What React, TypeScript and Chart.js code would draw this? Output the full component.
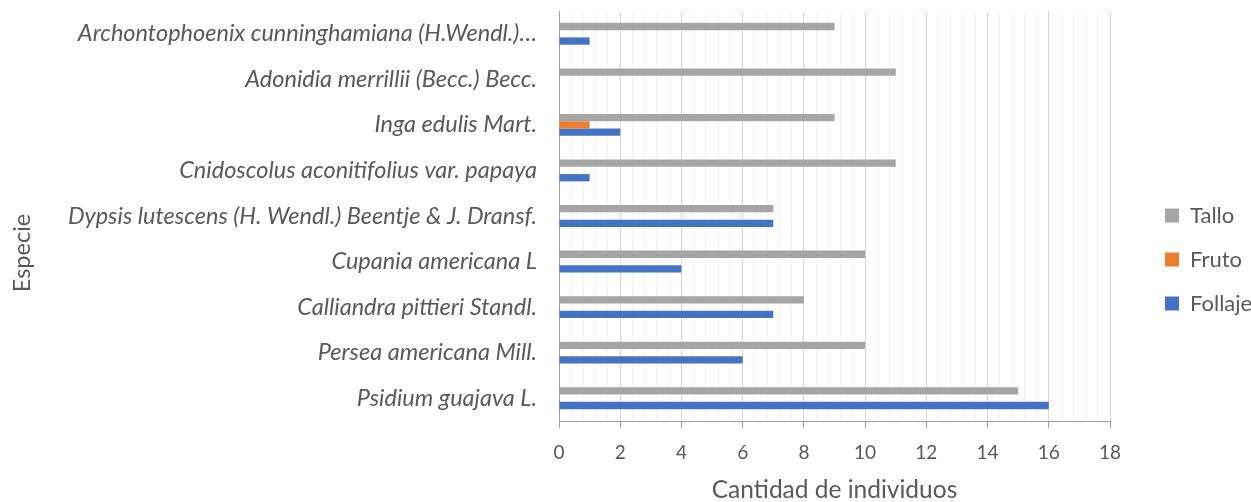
import React, { useEffect, useRef } from "react";
import { Chart, registerables } from "chart.js";

Chart.register(...registerables);

const categories = [
  "Archontophoenix cunninghamiana (H.Wendl.)…",
  "Adonidia merrillii (Becc.) Becc.",
  "Inga edulis Mart.",
  "Cnidoscolus aconitifolius var. papaya",
  "Dypsis lutescens (H. Wendl.) Beentje & J. Dransf.",
  "Cupania americana L",
  "Calliandra pittieri Standl.",
  "Persea americana Mill.",
  "Psidium guajava L.",
];
const tallo = [9, 11, 9, 11, 7, 10, 8, 10, 15];
const fruto = [0, 0, 1, 0, 0, 0, 0, 0, 0];
const follaje = [1, 0, 2, 1, 7, 4, 7, 6, 16];

const xMin = 0;
const xMax = 18;
const minorStep = 0.4;
const majorStep = 2;

const yTitleText = "Especie";
const xTitleText = "Cantidad de individuos";

const FONT = "Lato, 'Open Sans', sans-serif";
const TEXT = "#595959";

const isMajor = (v: number) => Math.abs(v / majorStep - Math.round(v / majorStep)) < 1e-6;

export default function App() {
  const ref = useRef<HTMLCanvasElement | null>(null);

  useEffect(() => {
    document.body.style.margin = "0";
    if (!ref.current) return;
    const legendTweak = {
      id: "legendTweak",
      beforeLayout(chart: any) {
        const lg = chart.legend;
        if (!lg || lg._tweaked) return;
        const orig = lg.fit;
        lg.fit = function () {
          orig.call(this);
          this.width = 141;
        };
        lg._tweaked = true;
      },
      afterLayout(chart: any) {
        const lg = chart.legend;
        if (!lg) return;
        lg.left += 33;
        lg.right += 33;
        lg.top += 3;
        lg.bottom += 3;
      },
    };
    const yTitle = {
      id: "yTitle",
      afterDraw(chart: any) {
        const ctx = chart.ctx;
        ctx.save();
        ctx.translate(22, 253);
        ctx.rotate(-Math.PI / 2);
        ctx.textAlign = "center";
        ctx.textBaseline = "middle";
        ctx.fillStyle = TEXT;
        ctx.font = `normal 23.5px ${FONT}`;
        ctx.fillText(yTitleText, 0, 0);
        ctx.restore();
      },
    };
    const chart = new Chart(ref.current, {
      type: "bar",
      data: {
        labels: categories,
        datasets: [
          { label: "Tallo", data: tallo, backgroundColor: "#a5a5a5" },
          { label: "Fruto", data: fruto, backgroundColor: "#ed7d31" },
          { label: "Follaje", data: follaje, backgroundColor: "#4472c4" },
        ],
      },
      plugins: [legendTweak, yTitle],
      options: {
        indexAxis: "y",
        animation: false,
        responsive: false,
        maintainAspectRatio: false,
        layout: { padding: { top: 11, left: 0, right: 0, bottom: 0 } },
        datasets: {
          bar: { barPercentage: 1, categoryPercentage: 0.48, borderWidth: 0 },
        },
        plugins: {
          tooltip: { enabled: false },
          legend: {
            position: "right",
            align: "center",
            labels: {
              color: TEXT,
              font: { family: FONT, size: 22 },
              boxWidth: 14,
              boxHeight: 14,
              padding: 22,
            },
          },
        },
        scales: {
          x: {
            type: "linear",
            min: xMin,
            max: xMax,
            afterFit: (s: any) => {
              s.height = 81;
            },
            ticks: {
              stepSize: minorStep,
              autoSkip: false,
              maxRotation: 0,
              color: TEXT,
              font: { family: FONT, size: 19 },
              padding: 13,
              callback: (v: any) => (isMajor(Number(v)) ? String(Math.round(Number(v))) : ""),
            },
            grid: {
              color: (ctx: any) => (isMajor(ctx.tick?.value ?? 0) ? "#d9d9d9" : "#f2f2f2"),
              tickColor: (ctx: any) => (isMajor(ctx.tick?.value ?? 0) ? "#a0a0a0" : "rgba(0,0,0,0)"),
              tickLength: 7,
              lineWidth: 1,
            },
            border: { display: true, color: "#a0a0a0", width: 1 },
            title: {
              display: true,
              text: xTitleText,
              color: TEXT,
              font: { family: FONT, size: 24.5, lineHeight: 1 },
              padding: { top: 0, bottom: 0 },
            },
          },
          y: {
            type: "category",
            afterFit: (s: any) => {
              s.width = 559;
              s.paddingTop = 0;
              s.paddingBottom = 0;
            },
            ticks: {
              color: TEXT,
              font: { family: FONT, size: 23.5, style: "italic" },
              padding: 0,
              autoSkip: false,
            },
            grid: { display: false, drawTicks: true, tickLength: 22 },
            border: { display: true, color: "#a0a0a0", width: 1 },
            title: { display: false },
          },
        },
      } as any,
    });
    return () => chart.destroy();
  }, []);

  return (
    <div style={{ position: "absolute", left: 0, top: 0, width: 1251, height: 502, background: "#fff" }}>
      <canvas ref={ref} width={1251} height={502} style={{ width: 1251, height: 502, display: "block" }} />
    </div>
  );
}
